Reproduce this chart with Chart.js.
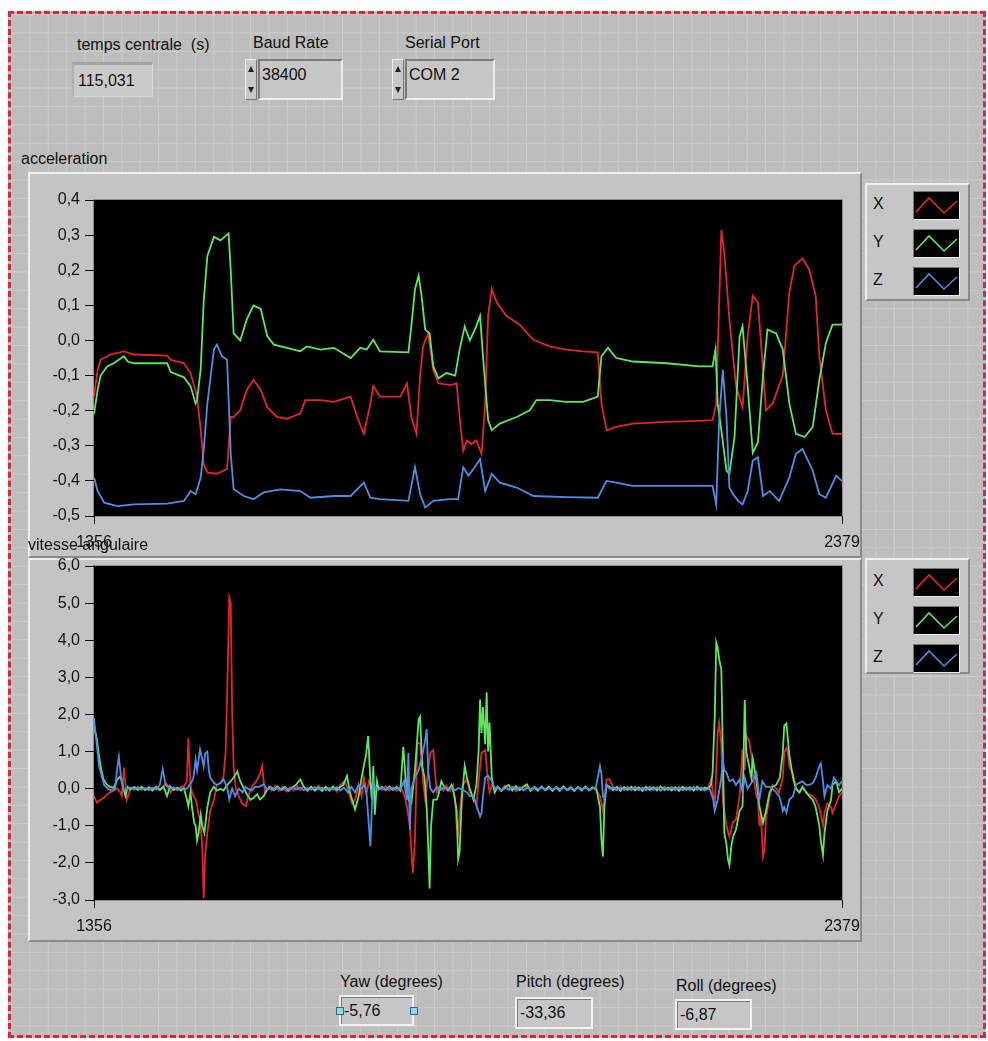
<!DOCTYPE html>
<html>
<head>
<meta charset="utf-8">
<script src="https://cdn.jsdelivr.net/npm/chart.js@4.4.0/dist/chart.umd.min.js"></script>
<style>
body{margin:0;width:988px;height:1041px;background:#fff;position:relative;overflow:hidden;font-family:"Liberation Sans",Arial,sans-serif;font-size:16px;color:#111;}
#panel{position:absolute;left:8px;top:11px;width:978px;height:1027px;box-sizing:border-box;border:3px dashed #d8283c;
  background-color:#bdbdbd;
  background-image:linear-gradient(to right,#cdcdcd 1px,transparent 1px),linear-gradient(to bottom,#cdcdcd 1px,transparent 1px);
  background-size:18.4px 18.4px;}
.lbl{position:absolute;white-space:pre;line-height:18px;}
.frame{position:absolute;background:#c4c4c4;box-sizing:border-box;border:2px solid;border-color:#efefef #8a8a8a #8a8a8a #efefef;}
canvas{position:absolute;}
.ind{position:absolute;box-sizing:border-box;background:#cacaca;border-top:3px solid #a4a4a4;border-left:2px solid #b2b2b2;border-right:1px solid #d8d8d8;border-bottom:1px solid #d8d8d8;padding:3px 0 0 4px;line-height:26px;}
.ctl{position:absolute;box-sizing:border-box;}
.arrows{position:absolute;left:0;top:0;width:12px;height:100%;box-sizing:border-box;border:1px solid;border-color:#eee #777 #777 #eee;background:#c8c8c8;}
.arrows div{position:absolute;left:2px;width:0;height:0;border-left:3px solid transparent;border-right:3px solid transparent;}
.field{position:absolute;left:13px;top:0;right:0;bottom:0;box-sizing:border-box;border:2px solid;border-color:#7c7c7c #efefef #efefef #7c7c7c;background:#c6c6c6;padding:3px 0 0 2px;line-height:22px;}
.out{position:absolute;box-sizing:border-box;border:2px solid #f2f2f2;box-shadow:inset 1px 1px 0 #7c7c7c;background:#c6c6c6;padding:0 0 0 3px;line-height:27px;}
.legend{position:absolute;background:#c6c6c6;box-sizing:border-box;border:2px solid;border-color:#efefef #8a8a8a #8a8a8a #efefef;}
.legend .k{position:absolute;left:6px;line-height:18px;}
.legend svg{position:absolute;left:46px;border:1px solid;border-color:#777 #eee #eee #777;}
.handle{position:absolute;width:6px;height:6px;border:1px solid #2a6c8c;background:#8fd8e8;}
</style>
</head>
<body>
<div id="panel"></div>

<div class="lbl" style="left:77px;top:36px;">temps centrale  (s)</div>
<div class="ind" style="left:72px;top:62px;width:81px;height:35px;">115,031</div>

<div class="lbl" style="left:253px;top:34px;">Baud Rate</div>
<div class="ctl" style="left:245px;top:59px;width:98px;height:41px;">
  <div class="arrows"><div style="top:6px;border-bottom:6px solid #222;"></div><div style="bottom:6px;border-top:6px solid #222;"></div></div>
  <div class="field">38400</div>
</div>

<div class="lbl" style="left:405px;top:34px;">Serial Port</div>
<div class="ctl" style="left:392px;top:59px;width:103px;height:41px;">
  <div class="arrows"><div style="top:6px;border-bottom:6px solid #222;"></div><div style="bottom:6px;border-top:6px solid #222;"></div></div>
  <div class="field">COM 2</div>
</div>

<div class="lbl" style="left:21px;top:150px;">acceleration</div>
<div class="frame" style="left:28px;top:172px;width:834px;height:386px;"></div>
<canvas id="accChart" width="842" height="385" style="left:28px;top:172px;width:842px;height:385px;"></canvas>
<div class="legend" id="accLegend" style="left:865px;top:183px;width:105px;height:118px;"></div>

<div class="frame" style="left:28px;top:558px;width:834px;height:384px;"></div>
<canvas id="gyroChart" width="842" height="402" style="left:28px;top:540px;width:842px;height:402px;"></canvas>
<div class="lbl" style="left:28px;top:536px;">vitesse angulaire</div>
<div class="legend" id="gyroLegend" style="left:865px;top:558px;width:105px;height:116px;"></div>

<div class="lbl" style="left:340px;top:973px;">Yaw (degrees)</div>
<div class="out" style="left:339px;top:995px;width:75px;height:31px;">-5,76</div>
<div class="handle" style="left:336px;top:1007px;"></div>
<div class="handle" style="left:410px;top:1007px;"></div>

<div class="lbl" style="left:516px;top:973px;">Pitch (degrees)</div>
<div class="out" style="left:515px;top:997px;width:78px;height:32px;">-33,36</div>

<div class="lbl" style="left:676px;top:977px;">Roll (degrees)</div>
<div class="out" style="left:675px;top:999px;width:77px;height:31px;">-6,87</div>

<script>
const seriesNames = ['X', 'Y', 'Z'];
const seriesColors = ['#e8232a', '#5ee85e', '#4d8fe8'];
const xTicks = [1356, 2379];
const accRange = [-0.5, 0.4];
const gyroRange = [-3, 6];

// acceleration, [sample, value]
const accX = [[1356,-0.16],[1361,-0.084],[1365,-0.055],[1379,-0.04],[1397,-0.031],[1411,-0.04],[1456,-0.043],[1461,-0.055],[1479,-0.065],[1488,-0.093],[1497,-0.16],[1502,-0.256],[1506,-0.352],[1511,-0.376],[1524,-0.38],[1538,-0.366],[1543,-0.218],[1547,-0.218],[1556,-0.199],[1565,-0.141],[1574,-0.112],[1584,-0.141],[1593,-0.19],[1606,-0.218],[1620,-0.223],[1638,-0.208],[1645,-0.17],[1666,-0.17],[1684,-0.175],[1707,-0.16],[1716,-0.218],[1725,-0.266],[1734,-0.18],[1738,-0.13],[1747,-0.16],[1775,-0.16],[1784,-0.122],[1790,-0.218],[1797,-0.266],[1802,-0.10],[1806,-0.017],[1813,0.02],[1820,-0.084],[1827,-0.122],[1843,-0.127],[1852,-0.122],[1856,-0.218],[1861,-0.314],[1866,-0.285],[1872,-0.295],[1879,-0.285],[1886,-0.323],[1891,-0.18],[1895,0.07],[1900,0.146],[1907,0.108],[1920,0.07],[1938,0.045],[1957,0.002],[1979,-0.017],[2002,-0.026],[2025,-0.031],[2045,-0.034],[2050,-0.18],[2057,-0.256],[2070,-0.246],[2093,-0.237],[2139,-0.232],[2184,-0.229],[2202,-0.227],[2207,-0.18],[2211,0.108],[2214,0.314],[2218,0.25],[2225,0.06],[2234,-0.13],[2243,-0.19],[2250,0.012],[2257,0.127],[2264,0.108],[2271,-0.084],[2275,-0.199],[2284,-0.18],[2298,-0.10],[2307,0.137],[2314,0.213],[2325,0.234],[2334,0.203],[2343,0.127],[2348,-0.045],[2357,-0.199],[2366,-0.266],[2379,-0.266]];
const accY = [[1356,-0.21],[1361,-0.14],[1365,-0.10],[1374,-0.074],[1383,-0.065],[1397,-0.045],[1402,-0.06],[1411,-0.065],[1456,-0.065],[1461,-0.09],[1479,-0.105],[1488,-0.13],[1495,-0.18],[1497,-0.17],[1502,-0.08],[1506,0.11],[1511,0.24],[1520,0.295],[1529,0.285],[1540,0.305],[1543,0.2],[1547,0.02],[1556,0.0],[1565,0.06],[1574,0.10],[1584,0.09],[1593,0.012],[1602,-0.012],[1620,-0.021],[1638,-0.031],[1647,-0.017],[1666,-0.026],[1684,-0.021],[1707,-0.05],[1720,-0.021],[1729,-0.026],[1738,0.002],[1747,-0.031],[1786,-0.034],[1790,0.04],[1795,0.146],[1800,0.185],[1804,0.127],[1809,0.031],[1815,0.02],[1820,-0.074],[1827,-0.108],[1838,-0.093],[1850,-0.10],[1856,-0.026],[1863,0.04],[1870,0.0],[1877,0.031],[1884,0.07],[1888,-0.045],[1895,-0.227],[1900,-0.256],[1911,-0.237],[1934,-0.218],[1952,-0.199],[1961,-0.17],[1979,-0.17],[2002,-0.175],[2025,-0.175],[2045,-0.16],[2050,-0.045],[2059,-0.021],[2070,-0.05],[2093,-0.06],[2139,-0.065],[2184,-0.074],[2202,-0.074],[2206,-0.026],[2209,-0.18],[2214,-0.256],[2221,-0.371],[2225,-0.38],[2232,-0.275],[2239,0.012],[2243,0.04],[2250,-0.13],[2257,-0.32],[2264,-0.29],[2271,-0.10],[2277,0.031],[2289,0.02],[2298,-0.026],[2307,-0.18],[2316,-0.266],[2328,-0.275],[2339,-0.246],[2348,-0.112],[2357,-0.007],[2366,0.045],[2379,0.045]];
const accZ = [[1356,-0.39],[1361,-0.429],[1370,-0.462],[1388,-0.472],[1411,-0.467],[1456,-0.465],[1479,-0.457],[1488,-0.429],[1495,-0.438],[1502,-0.39],[1506,-0.314],[1511,-0.18],[1520,-0.026],[1524,-0.012],[1531,-0.045],[1538,-0.055],[1543,-0.323],[1547,-0.424],[1561,-0.443],[1574,-0.452],[1588,-0.433],[1611,-0.424],[1638,-0.429],[1652,-0.448],[1684,-0.443],[1707,-0.443],[1725,-0.405],[1734,-0.448],[1747,-0.452],[1786,-0.457],[1795,-0.361],[1802,-0.438],[1809,-0.476],[1820,-0.457],[1843,-0.452],[1854,-0.452],[1861,-0.361],[1868,-0.385],[1875,-0.366],[1884,-0.338],[1891,-0.429],[1900,-0.38],[1911,-0.405],[1934,-0.419],[1957,-0.443],[2002,-0.446],[2045,-0.448],[2057,-0.40],[2070,-0.405],[2093,-0.414],[2139,-0.414],[2202,-0.414],[2207,-0.467],[2211,-0.227],[2216,-0.084],[2221,-0.218],[2225,-0.419],[2230,-0.438],[2237,-0.457],[2243,-0.467],[2250,-0.429],[2257,-0.342],[2264,-0.333],[2271,-0.443],[2280,-0.429],[2293,-0.457],[2307,-0.39],[2316,-0.323],[2325,-0.309],[2339,-0.371],[2348,-0.438],[2357,-0.448],[2371,-0.385],[2379,-0.40]];

// vitesse angulaire, [sample, value]
const gyroX = [[1356,-0.2],[1360,-0.38],[1365,-0.3],[1369,-0.25],[1374,-0.15],[1378,-0.1],[1383,-0.05],[1388,0.0],[1392,-0.1],[1394,-0.2],[1397,0.57],[1399,0.1],[1401,-0.29],[1406,0.0],[1411,0.05],[1416,-0.02],[1421,0.04],[1426,-0.03],[1431,0.05],[1436,0.0],[1441,0.06],[1446,-0.04],[1450,0.03],[1454,0.16],[1458,0.05],[1461,-0.1],[1465,0.02],[1470,-0.05],[1475,0.05],[1479,0.07],[1483,0.2],[1485,1.36],[1488,0.1],[1490,-0.1],[1495,-0.3],[1497,-0.47],[1499,-0.7],[1501,-0.83],[1504,-1.5],[1506,-2.95],[1508,-1.8],[1511,-1.2],[1515,-0.6],[1520,-0.3],[1524,0.1],[1529,0.15],[1533,0.3],[1536,0.97],[1539,3.3],[1541,5.15],[1543,5.0],[1545,2.0],[1547,0.6],[1550,0.0],[1554,-0.2],[1558,-0.38],[1561,-0.44],[1564,-0.47],[1567,-0.2],[1572,0.05],[1578,0.2],[1583,0.4],[1586,0.61],[1588,0.2],[1590,-0.1],[1595,0.05],[1599,-0.05],[1604,0.08],[1609,-0.06],[1614,0.05],[1619,-0.08],[1624,0.04],[1629,-0.05],[1634,0.07],[1638,-0.04],[1643,0.06],[1648,-0.07],[1653,0.03],[1658,-0.05],[1663,0.08],[1668,-0.03],[1673,0.05],[1678,-0.06],[1683,0.04],[1688,-0.08],[1693,0.1],[1698,0.2],[1702,0.05],[1706,-0.2],[1709,-0.4],[1713,-0.3],[1718,0.1],[1722,-0.2],[1725,0.3],[1729,-0.1],[1732,0.2],[1736,0.0],[1740,-0.1],[1745,0.05],[1750,-0.03],[1755,0.06],[1760,-0.05],[1765,0.04],[1770,-0.06],[1775,0.05],[1779,-0.1],[1782,-0.3],[1784,-0.5],[1788,-1.0],[1792,-2.28],[1795,-1.37],[1798,1.22],[1802,1.24],[1806,0.2],[1809,-0.3],[1813,0.5],[1816,0.97],[1820,1.04],[1823,0.3],[1825,-0.1],[1829,0.05],[1834,-0.05],[1838,0.08],[1843,-0.06],[1847,0.1],[1850,-0.4],[1852,-1.0],[1854,-1.2],[1857,-0.5],[1860,0.1],[1866,0.25],[1870,-0.1],[1875,-0.2],[1879,-0.47],[1882,0.2],[1886,0.97],[1891,1.04],[1893,0.6],[1895,0.2],[1897,-0.1],[1900,0.1],[1904,0.0],[1908,0.06],[1913,-0.05],[1918,0.08],[1923,-0.04],[1928,0.05],[1933,-0.07],[1938,0.04],[1943,-0.05],[1948,0.07],[1953,-0.03],[1958,0.05],[1963,-0.06],[1968,0.04],[1973,-0.05],[1978,0.06],[1983,-0.04],[1988,0.03],[1993,-0.06],[1998,0.05],[2003,-0.03],[2008,0.06],[2013,-0.05],[2018,0.04],[2023,-0.06],[2028,0.05],[2033,-0.04],[2038,0.03],[2043,-0.05],[2048,-0.2],[2052,-0.6],[2054,-0.3],[2057,0.25],[2061,0.25],[2066,0.05],[2071,-0.04],[2076,0.05],[2081,-0.03],[2086,0.04],[2091,-0.05],[2096,0.06],[2101,-0.04],[2106,0.03],[2111,-0.05],[2116,0.06],[2121,-0.03],[2126,0.04],[2131,-0.06],[2136,0.05],[2141,-0.04],[2146,0.03],[2151,-0.05],[2156,0.06],[2161,-0.03],[2166,0.04],[2171,-0.05],[2176,0.05],[2181,-0.04],[2186,0.03],[2191,-0.05],[2196,0.04],[2200,0.25],[2205,-0.5],[2209,1.5],[2211,1.78],[2214,1.2],[2216,-0.3],[2218,-0.6],[2221,-1.0],[2225,-1.3],[2230,-0.9],[2234,-0.83],[2239,-0.2],[2243,1.06],[2246,0.5],[2248,1.42],[2252,1.3],[2255,0.9],[2257,0.4],[2262,-0.2],[2264,-0.3],[2266,-1.0],[2268,-0.7],[2271,-1.83],[2273,-1.64],[2275,-0.8],[2280,-0.2],[2284,0.1],[2289,0.0],[2293,-0.1],[2298,0.3],[2300,0.97],[2303,1.1],[2305,0.97],[2307,0.6],[2312,0.4],[2316,0.0],[2320,-0.1],[2325,0.05],[2330,-0.1],[2334,-0.15],[2339,-0.2],[2343,-0.29],[2348,-0.5],[2350,-0.7],[2353,-1.0],[2355,-0.65],[2359,-0.4],[2364,-0.5],[2366,-0.65],[2371,-0.4],[2375,-0.2],[2379,-0.1]];
const gyroY = [[1356,1.7],[1358,1.5],[1360,1.33],[1362,1.0],[1365,0.6],[1369,0.25],[1374,0.1],[1378,0.05],[1383,0.02],[1388,0.25],[1392,0.34],[1395,0.1],[1399,-0.2],[1402,0.05],[1406,-0.02],[1411,0.04],[1416,-0.03],[1421,0.05],[1426,-0.04],[1431,0.03],[1436,-0.05],[1441,0.04],[1446,-0.03],[1451,0.05],[1456,-0.2],[1460,0.07],[1465,-0.04],[1470,0.03],[1475,-0.05],[1479,0.02],[1483,-0.29],[1485,-0.47],[1488,-0.1],[1490,-0.5],[1493,-0.92],[1495,-1.0],[1497,-1.39],[1499,-1.2],[1502,-0.7],[1504,-1.0],[1507,-1.19],[1511,-0.5],[1515,-0.1],[1520,0.05],[1524,-0.05],[1529,0.0],[1533,-0.05],[1538,0.1],[1543,0.2],[1547,0.3],[1552,0.46],[1556,0.2],[1561,0.0],[1565,-0.15],[1570,-0.3],[1574,-0.25],[1579,-0.15],[1583,-0.29],[1588,-0.2],[1592,-0.05],[1597,0.05],[1602,-0.04],[1607,0.06],[1612,-0.03],[1617,0.05],[1622,-0.06],[1627,0.04],[1632,0.1],[1638,0.25],[1643,0.05],[1648,-0.04],[1653,0.06],[1658,-0.05],[1663,0.03],[1668,-0.06],[1673,0.05],[1678,-0.04],[1683,0.06],[1688,-0.03],[1693,0.05],[1697,0.1],[1702,0.34],[1706,-0.1],[1709,-0.3],[1713,-0.56],[1718,-0.2],[1722,0.3],[1725,0.61],[1728,0.9],[1731,1.42],[1734,0.2],[1736,-0.3],[1738,0.61],[1740,-0.7],[1743,0.2],[1745,0.0],[1750,0.05],[1755,-0.04],[1760,0.06],[1765,-0.03],[1770,0.05],[1775,-0.06],[1779,1.13],[1782,0.3],[1786,-0.3],[1790,-0.4],[1795,0.5],[1800,1.87],[1802,1.94],[1805,0.6],[1808,0.3],[1811,-0.5],[1813,-1.5],[1815,-2.69],[1817,-1.0],[1820,-0.3],[1825,-0.29],[1828,-0.1],[1831,0.2],[1835,0.05],[1840,-0.05],[1845,0.1],[1849,-0.2],[1852,-0.6],[1854,-1.9],[1856,-1.7],[1859,-0.3],[1863,0.61],[1866,0.3],[1870,0.0],[1875,-0.3],[1879,0.1],[1882,1.0],[1884,2.4],[1886,1.5],[1888,2.2],[1891,1.2],[1893,2.6],[1895,1.0],[1897,1.78],[1900,0.3],[1904,-0.1],[1908,0.05],[1913,-0.06],[1918,0.04],[1923,0.1],[1928,-0.05],[1933,0.07],[1938,-0.04],[1943,0.05],[1948,0.12],[1953,-0.06],[1958,0.04],[1963,-0.05],[1968,0.06],[1973,-0.03],[1978,0.05],[1983,-0.06],[1988,0.04],[1993,-0.05],[1998,0.06],[2003,-0.04],[2008,0.03],[2013,-0.06],[2018,0.05],[2023,-0.04],[2028,0.06],[2033,-0.05],[2038,0.04],[2043,0.0],[2048,-0.5],[2050,-1.37],[2052,-1.83],[2054,-0.5],[2057,0.1],[2061,0.05],[2066,-0.04],[2071,0.05],[2076,-0.06],[2081,0.04],[2086,-0.03],[2091,0.05],[2096,-0.05],[2101,0.04],[2106,-0.06],[2111,0.05],[2116,-0.03],[2121,0.04],[2126,-0.05],[2131,0.06],[2136,-0.04],[2141,0.03],[2146,-0.05],[2151,0.04],[2156,-0.06],[2161,0.05],[2166,-0.03],[2171,0.04],[2176,-0.05],[2181,0.06],[2186,-0.04],[2191,0.03],[2196,0.0],[2200,0.1],[2202,0.43],[2205,1.96],[2207,3.94],[2209,3.8],[2211,3.49],[2214,3.2],[2216,1.0],[2218,-1.19],[2221,-1.5],[2223,-1.9],[2225,-2.06],[2228,-1.5],[2230,-1.3],[2234,-1.1],[2239,-0.6],[2243,-0.47],[2246,2.39],[2248,1.0],[2252,0.6],[2255,0.3],[2257,0.8],[2262,0.2],[2266,-0.47],[2271,-0.92],[2275,-0.6],[2280,-0.1],[2284,0.05],[2289,0.1],[2294,0.3],[2298,0.97],[2300,1.69],[2303,1.76],[2305,1.33],[2307,0.9],[2312,0.3],[2316,0.0],[2321,-0.1],[2325,0.05],[2330,-0.1],[2334,-0.2],[2339,-0.3],[2343,-0.5],[2348,-1.0],[2350,-1.4],[2353,-1.79],[2355,-1.2],[2359,-0.6],[2364,-0.3],[2366,0.1],[2371,0.2],[2375,-0.1],[2379,0.0]];
const gyroZ = [[1356,1.9],[1358,1.5],[1360,1.15],[1363,0.6],[1367,0.3],[1370,0.1],[1375,0.0],[1380,-0.05],[1385,0.0],[1388,0.6],[1390,0.86],[1393,0.3],[1397,-0.05],[1401,-0.02],[1406,0.03],[1411,-0.02],[1416,0.04],[1421,-0.03],[1426,0.02],[1431,-0.04],[1436,0.03],[1441,-0.02],[1446,0.1],[1450,0.52],[1454,0.1],[1460,0.0],[1465,0.03],[1470,-0.03],[1475,0.02],[1480,-0.04],[1485,0.05],[1490,0.2],[1492,0.3],[1495,0.79],[1497,0.5],[1501,1.06],[1504,0.79],[1506,0.6],[1508,0.95],[1511,1.0],[1513,0.5],[1515,0.3],[1520,0.15],[1524,0.1],[1529,0.15],[1533,0.25],[1538,0.05],[1541,-0.29],[1545,0.0],[1549,-0.2],[1554,0.0],[1559,-0.1],[1563,0.05],[1567,0.0],[1572,-0.05],[1576,0.05],[1582,0.05],[1588,0.12],[1593,-0.03],[1598,0.04],[1603,-0.02],[1608,0.03],[1613,-0.04],[1618,0.02],[1623,-0.03],[1628,0.04],[1633,-0.02],[1638,0.03],[1643,-0.04],[1648,0.02],[1653,-0.03],[1658,0.04],[1663,-0.02],[1668,0.03],[1673,-0.04],[1678,0.02],[1683,-0.03],[1688,0.04],[1693,-0.05],[1698,0.03],[1703,-0.1],[1708,0.05],[1713,-0.1],[1718,0.1],[1722,0.0],[1726,0.1],[1729,-0.2],[1734,-1.55],[1736,-0.5],[1738,0.2],[1740,0.05],[1745,-0.03],[1750,0.04],[1755,-0.02],[1760,0.03],[1765,-0.04],[1770,0.02],[1775,-0.03],[1780,0.2],[1784,-0.3],[1786,0.97],[1788,-1.1],[1790,0.0],[1795,0.3],[1800,0.5],[1805,0.9],[1809,1.31],[1811,1.6],[1813,0.5],[1816,0.0],[1820,-0.1],[1825,0.05],[1830,-0.03],[1835,0.04],[1840,-0.02],[1845,0.03],[1850,-0.04],[1855,0.02],[1860,-0.03],[1866,-0.1],[1870,-0.2],[1875,-0.2],[1880,-0.5],[1884,-0.75],[1886,-0.65],[1888,-0.2],[1891,0.3],[1895,0.35],[1900,0.2],[1904,0.0],[1909,0.03],[1914,-0.04],[1919,0.02],[1924,-0.03],[1929,0.04],[1934,-0.02],[1939,0.03],[1944,-0.04],[1949,0.02],[1954,-0.03],[1959,0.04],[1964,-0.02],[1969,0.03],[1974,-0.04],[1979,0.02],[1984,-0.03],[1989,0.04],[1994,-0.02],[1999,0.03],[2004,-0.04],[2009,0.02],[2014,-0.03],[2019,0.04],[2024,-0.02],[2029,0.03],[2034,-0.04],[2039,0.02],[2042,0.0],[2045,0.3],[2048,0.61],[2050,0.4],[2052,-0.2],[2054,-0.3],[2057,0.1],[2061,0.0],[2066,0.03],[2071,-0.04],[2076,0.02],[2081,-0.03],[2086,0.04],[2091,-0.02],[2096,0.03],[2101,-0.04],[2106,0.02],[2111,-0.03],[2116,0.04],[2121,-0.02],[2126,0.03],[2131,-0.04],[2136,0.02],[2141,-0.03],[2146,0.04],[2151,-0.02],[2156,0.03],[2161,-0.04],[2166,0.02],[2171,-0.03],[2176,0.04],[2181,-0.02],[2186,0.03],[2191,-0.04],[2198,0.0],[2203,-0.3],[2205,-0.6],[2209,-0.3],[2214,0.3],[2216,0.79],[2218,0.5],[2221,0.43],[2225,0.2],[2230,0.25],[2234,0.1],[2239,0.25],[2243,-0.1],[2246,0.3],[2250,0.0],[2255,0.15],[2259,0.3],[2262,0.43],[2266,-0.3],[2270,0.2],[2275,0.05],[2280,0.05],[2284,0.0],[2289,-0.1],[2293,-0.2],[2296,-0.4],[2298,-0.6],[2300,-0.5],[2303,-0.65],[2307,-0.3],[2312,-0.2],[2316,0.1],[2320,0.15],[2325,0.2],[2330,0.1],[2334,0.1],[2339,0.15],[2343,0.3],[2348,0.61],[2350,0.68],[2353,0.2],[2355,-0.2],[2359,0.1],[2364,0.0],[2368,0.3],[2371,0.2],[2375,0.1],[2379,0.2]];

const fontFamily = '"Liberation Sans", Arial, sans-serif';

// black plot background like the LabVIEW graph
const plotBg = {
  id: 'plotBg',
  beforeDraw(chart) {
    const a = chart.chartArea;
    const c = chart.ctx;
    c.save();
    c.fillStyle = '#000';
    c.fillRect(a.left, a.top, a.right - a.left, a.bottom - a.top);
    c.strokeStyle = '#8e8e8e';
    c.lineWidth = 1;
    c.strokeRect(a.left - 0.5, a.top - 0.5, a.right - a.left + 1, a.bottom - a.top + 1);
    c.restore();
  }
};

function fmt(v, digits) {
  if (Math.abs(v) < 1e-9) v = 0;
  return v.toFixed(digits).replace('.', ',');
}

function makeChart(id, series, range, step, padTop, xHeight) {
  return new Chart(document.getElementById(id), {
    type: 'line',
    data: {
      datasets: series.map((s, i) => ({
        label: seriesNames[i],
        data: s.map(p => ({ x: p[0], y: p[1] })),
        borderColor: seriesColors[i],
        borderWidth: 1.8,
        pointRadius: 0,
        tension: 0,
        order: 3 - i
      }))
    },
    options: {
      responsive: false,
      animation: false,
      devicePixelRatio: 1,
      events: [],
      layout: { padding: { top: padTop, right: 28, left: 0, bottom: 0 } },
      plugins: { legend: { display: false }, tooltip: { enabled: false } },
      scales: {
        x: {
          type: 'linear',
          min: xTicks[0],
          max: xTicks[1],
          afterBuildTicks: s => { s.ticks = xTicks.map(v => ({ value: v })); },
          afterFit: s => { s.height = xHeight; },
          border: { display: false },
          grid: { drawOnChartArea: false, tickLength: 8, color: '#111' },
          ticks: { color: '#111', padding: 9, maxRotation: 0, autoSkip: false,
                   font: { size: 16, family: fontFamily }, callback: v => String(v) }
        },
        y: {
          min: range[0],
          max: range[1],
          afterFit: s => { s.width = 66; },
          border: { display: false },
          grid: { drawOnChartArea: false, tickLength: 9, color: '#111' },
          ticks: { stepSize: step, color: '#111', padding: 5,
                   font: { size: 16, family: fontFamily }, callback: v => fmt(v, 1) }
        }
      }
    },
    plugins: [plotBg]
  });
}

const accChart = makeChart('accChart', [accX, accY, accZ], accRange, 0.1, 28, 41);
const gyroChart = makeChart('gyroChart', [gyroX, gyroY, gyroZ], gyroRange, 1, 26, 42);

function buildLegend(el, chart, top0) {
  chart.data.datasets.forEach((ds, i) => {
    const y = top0 + i * 38;
    const k = document.createElement('div');
    k.className = 'k';
    k.style.top = (y + 4) + 'px';
    k.textContent = ds.label;
    el.appendChild(k);
    const ns = 'http://www.w3.org/2000/svg';
    const svg = document.createElementNS(ns, 'svg');
    svg.setAttribute('width', '45');
    svg.setAttribute('height', '27');
    svg.style.top = y + 'px';
    svg.style.background = '#000';
    const pl = document.createElementNS(ns, 'polyline');
    pl.setAttribute('points', '2,20 15,6 30,21 43,9');
    pl.setAttribute('fill', 'none');
    pl.setAttribute('stroke', ds.borderColor);
    pl.setAttribute('stroke-width', '1.6');
    svg.appendChild(pl);
    el.appendChild(svg);
  });
}
buildLegend(document.getElementById('accLegend'), accChart, 6);
buildLegend(document.getElementById('gyroLegend'), gyroChart, 8);
</script>
</body>
</html>
